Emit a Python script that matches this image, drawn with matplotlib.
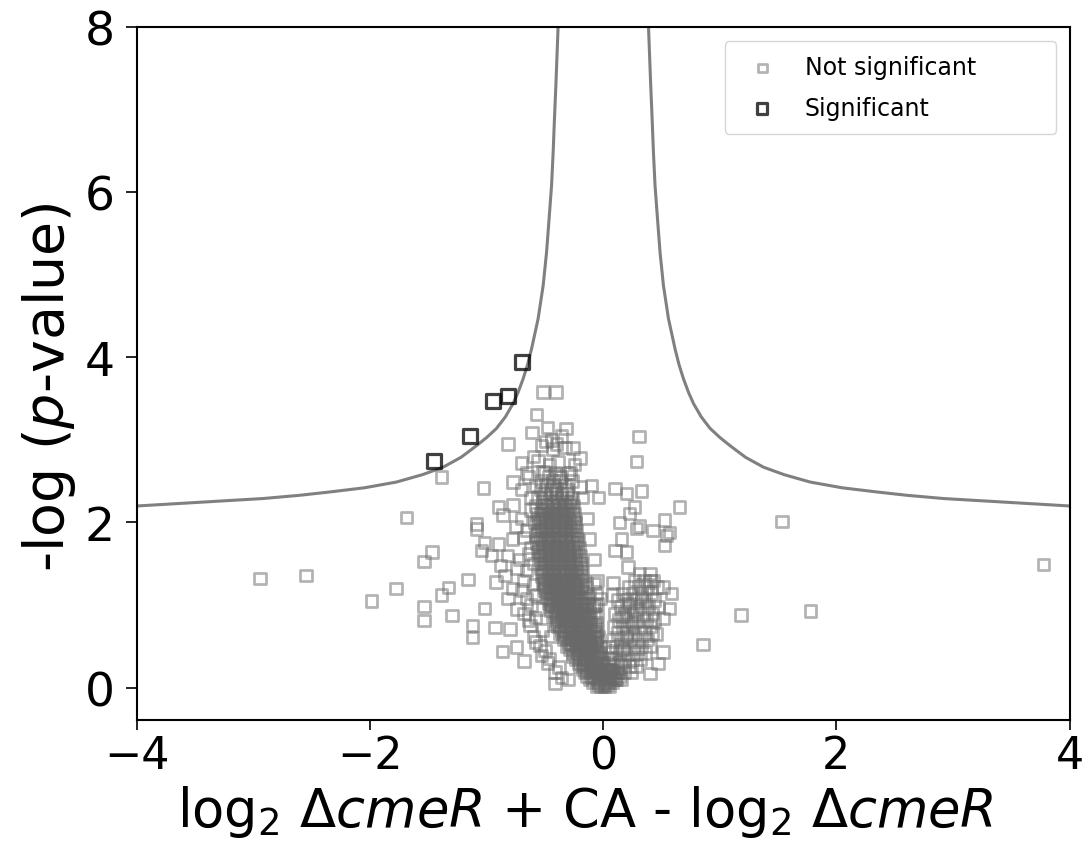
"""Volcano plot: log2 fold change (dcmeR + CA vs dcmeR) against -log p, with a hyperbolic significance cut-off."""
import matplotlib
matplotlib.use("Agg")
import matplotlib.pyplot as plt

# significance cut-off curve (|x|, -log p); mirrored for both sides
curve_abs_x = [0.388, 0.396, 0.407, 0.419, 0.430, 0.444, 0.465, 0.487, 0.516, 0.559, 0.616, 0.65,
               0.688, 0.73, 0.774, 0.84, 0.916, 1.00, 1.088, 1.22, 1.374, 1.55, 1.774, 2.05, 2.345,
               2.60, 2.92, 3.40, 4.00]
curve_y = [8.00, 7.70, 7.29, 6.89, 6.49, 6.08, 5.68, 5.27, 4.87, 4.47, 4.10, 3.91,
           3.74, 3.58, 3.44, 3.28, 3.14, 3.03, 2.93, 2.79, 2.67, 2.58, 2.49, 2.42, 2.37,
           2.33, 2.29, 2.25, 2.20]

# significant proteins
sig_x = [-0.70, -0.816, -0.945, -1.142, -1.451]
sig_y = [3.94, 3.53, 3.47, 3.05, 2.75]

# scattered non-significant proteins around the main cloud
out_x = [-2.946, -2.55, -1.99, -1.78, -1.69, -1.47, -1.54, -1.54, -1.54, -1.39, -1.39, -1.33, -1.30,
         -1.16, -1.12, -1.12, -1.03, -1.09, -1.09, -1.02, -1.02, -1.045, -0.96, -0.93, -0.90, -0.90,
         -0.92, -0.86, -0.864, -0.845, -0.816, -0.816, -0.80, -0.774, -0.774, -0.744, -0.70, -0.68,
         -0.63, -0.613, -0.573, -0.56, -0.545, -0.53, -0.53, -0.516, -0.516, -0.493, -0.436, -0.416,
         -0.416, -0.407, -0.39, -0.36, -0.36, -0.33, -0.32, -0.245, -0.20, -0.20,
         0.10, 0.20, 0.33, 0.307, 0.287, 0.27, 0.656, 0.14, 0.227, 0.527, 0.31, 0.427, 0.57, 0.10,
         0.20, 0.213, 0.156, 0.285, 0.54, 0.527, 0.084, 0.40, 0.513, 0.585, 0.57, 0.513, 0.456,
         0.513, 0.47, 0.40, 0.856, 1.18, 1.777, 1.533, 3.776, -0.03, 0.084,
         -0.75, -0.68, -0.62, -0.72, -0.66, -0.60, -0.70, -0.62, -0.68, -0.58, -0.60, -0.50, -0.48,
         -0.45, -0.56, -0.62, -0.66, -0.58,
         -0.62, -0.70, -0.66, -0.78, -0.64, -0.74, -0.60, -0.68, -0.78, -0.58, -0.66, -0.74, -0.56,
         -0.64, -0.52, -0.58, -0.46, -0.38, -0.36, -0.30, -0.82, -0.88, -0.70, -0.64, -0.60, -0.46,
         -0.40, -0.28, -0.18, -0.14, -0.12, -0.08, -0.05, -0.04, -0.10, -0.26, -0.48, -0.44,
         0.05, 0.06, 0.13, 0.17, 0.05, 0.20, 0.24, 0.16, 0.28, 0.22, 0.33]
out_y = [1.32, 1.36, 1.05, 1.20, 2.06, 1.64, 1.53, 0.98, 0.81, 2.55, 1.12, 1.21, 0.875,
         1.31, 0.75, 0.61, 2.42, 1.98, 1.92, 0.96, 1.76, 1.66, 1.60, 0.73, 2.19, 1.74,
         1.28, 2.09, 0.44, 1.36, 2.95, 1.08, 0.71, 2.49, 2.21, 0.49, 2.72, 0.32,
         0.75, 3.09, 3.31, 2.75, 0.51, 2.93, 0.39, 3.58, 2.61, 2.98, 2.89, 0.19,
         0.05, 3.58, 2.73, 3.05, 2.55, 2.91, 3.14, 2.70, 2.78, 2.43,
         2.41, 2.35, 2.38, 3.04, 2.74, 2.19, 2.19, 2.00, 2.11, 2.03, 1.96, 1.90, 1.88, 1.66,
         1.64, 1.46, 1.80, 1.93, 1.84, 1.72, 1.27, 1.30, 1.22, 1.14, 0.96, 0.84, 0.65,
         0.43, 0.29, 0.17, 0.52, 0.88, 0.93, 2.01, 1.49, 1.08, 1.12,
         1.95, 1.82, 1.70, 1.55, 1.42, 1.25, 1.18, 1.00, 0.90, 0.85, 0.62, 0.45, 0.30,
         0.62, 2.05, 2.30, 2.60, 2.45,
         2.15, 2.05, 1.90, 1.80, 1.62, 1.45, 1.50, 1.30, 1.20, 1.12, 1.08, 0.95, 0.95,
         0.82, 0.70, 0.55, 0.35, 0.25, 0.12, 0.10, 1.60, 1.48, 2.40, 2.55, 2.80, 2.70,
         2.95, 2.60, 2.30, 2.05, 1.80, 1.55, 1.30, 2.30, 2.45, 2.90, 3.15, 3.00,
         0.22, 0.35, 0.30, 0.46, 0.50, 0.62, 0.78, 0.86, 0.94, 1.02, 1.10]

# dense left lobe and V bottom, one row of x values per -log p level
core_levels = [0.02, 0.06, 0.10, 0.14, 0.18, 0.22, 0.26, 0.30, 0.34, 0.38, 0.42, 0.46, 0.50, 0.54,
               0.58, 0.62, 0.66, 0.70, 0.74, 0.78, 0.82, 0.86, 0.90, 0.94, 0.98, 1.02, 1.06, 1.10,
               1.14, 1.18, 1.22, 1.26, 1.30, 1.35, 1.40, 1.45, 1.50, 1.55, 1.60, 1.65, 1.70, 1.75,
               1.80, 1.85, 1.90, 1.95, 2.00, 2.05, 2.10, 2.15, 2.20, 2.25, 2.30, 2.35, 2.40, 2.45,
               2.50, 2.55, 2.60]
core_xs = [
    [-0.06, -0.02, 0.01, 0.05],
    [-0.09, -0.04, 0.02, 0.04, 0.08],
    [-0.12, -0.05, -0.03, 0.03, 0.06, 0.11],
    [-0.14, -0.08, -0.05, 0.01, 0.05, 0.08, 0.14],
    [-0.16, -0.11, -0.05, -0.02, 0.04, 0.09, 0.12],
    [-0.18, -0.12, -0.09, -0.02, 0.06],
    [-0.20, -0.15, -0.09, -0.06, 0.01],
    [-0.21, -0.17, -0.11, -0.08, -0.01, 0.05],
    [-0.24, -0.17, -0.14, -0.08, -0.05],
    [-0.26, -0.19, -0.16, -0.09, -0.04],
    [-0.26, -0.22, -0.16, -0.13, -0.06, -0.03],
    [-0.29, -0.22, -0.19, -0.12, -0.09],
    [-0.31, -0.24, -0.21, -0.14, -0.11, -0.03],
    [-0.30, -0.27, -0.20, -0.17, -0.10, -0.07],
    [-0.34, -0.27, -0.24, -0.17, -0.13, -0.06],
    [-0.33, -0.30, -0.23, -0.20, -0.13, -0.09, -0.04],
    [-0.37, -0.29, -0.26, -0.19, -0.16, -0.08],
    [-0.36, -0.33, -0.26, -0.22, -0.15, -0.11, -0.05],
    [-0.39, -0.32, -0.29, -0.21, -0.18, -0.10],
    [-0.41, -0.33, -0.30, -0.23, -0.19, -0.12, -0.06],
    [-0.40, -0.36, -0.29, -0.26, -0.18, -0.14],
    [-0.43, -0.36, -0.32, -0.25, -0.21, -0.13, -0.05],
    [-0.42, -0.39, -0.31, -0.28, -0.20, -0.16, -0.08],
    [-0.45, -0.38, -0.34, -0.27, -0.23, -0.15],
    [-0.44, -0.41, -0.33, -0.30, -0.22, -0.18, -0.09],
    [-0.47, -0.40, -0.36, -0.29, -0.25, -0.17, -0.13, -0.05],
    [-0.46, -0.43, -0.35, -0.32, -0.24, -0.20],
    [-0.49, -0.42, -0.38, -0.31, -0.27, -0.19, -0.12],
    [-0.48, -0.44, -0.37, -0.33, -0.26, -0.22, -0.14, -0.06],
    [-0.51, -0.43, -0.40, -0.32, -0.29, -0.21],
    [-0.50, -0.46, -0.38, -0.35, -0.27, -0.23, -0.15],
    [-0.52, -0.45, -0.41, -0.33, -0.30, -0.22, -0.08],
    [-0.51, -0.47, -0.40, -0.36, -0.28, -0.25, -0.16],
    [-0.53, -0.46, -0.42, -0.34, -0.31, -0.23, -0.19],
    [-0.52, -0.48, -0.41, -0.37, -0.29, -0.26, -0.18],
    [-0.54, -0.47, -0.43, -0.35, -0.32, -0.24, -0.20],
    [-0.53, -0.49, -0.42, -0.38, -0.30, -0.27, -0.19],
    [-0.55, -0.48, -0.44, -0.36, -0.33, -0.25, -0.21],
    [-0.54, -0.50, -0.43, -0.39, -0.31, -0.28, -0.20],
    [-0.56, -0.49, -0.45, -0.37, -0.34, -0.26, -0.22],
    [-0.55, -0.51, -0.44, -0.40, -0.32, -0.29, -0.21],
    [-0.57, -0.50, -0.46, -0.38, -0.35, -0.27, -0.23],
    [-0.55, -0.52, -0.44, -0.41, -0.33, -0.30, -0.22],
    [-0.58, -0.50, -0.47, -0.39, -0.36, -0.28, -0.24],
    [-0.56, -0.53, -0.45, -0.42, -0.34, -0.31, -0.23],
    [-0.51, -0.48, -0.40, -0.37, -0.29, -0.25],
    [-0.59, -0.54, -0.46, -0.43, -0.35, -0.32, -0.24],
    [-0.52, -0.49, -0.41, -0.37, -0.30, -0.26],
    [-0.57, -0.54, -0.47, -0.43, -0.36, -0.32, -0.25],
    [-0.53, -0.50, -0.42, -0.38, -0.31, -0.27],
    [-0.58, -0.48, -0.45, -0.37, -0.33, -0.26],
    [-0.52, -0.43, -0.40, -0.32, -0.28],
    [-0.56, -0.49, -0.40, -0.36, -0.27],
    [-0.51, -0.44, -0.36, -0.31],
    [-0.54, -0.45, -0.40, -0.31],
    [-0.49, -0.42, -0.33],
    [-0.53, -0.43, -0.37, -0.27],
    [-0.47, -0.38],
    [-0.50, -0.41, -0.30],
]

# second, interleaved set of rows filling the middle of the left lobe
fill_levels = [0.04, 0.12, 0.20, 0.28, 0.36, 0.44, 0.52, 0.60, 0.68, 0.76, 0.84, 0.92, 1.00, 1.08,
               1.16, 1.24, 1.32, 1.42, 1.52, 1.62, 1.72, 1.82, 1.92, 2.02, 2.12, 2.22]
fill_xs = [
    [-0.04, 0.00, 0.03],
    [-0.10, -0.07, -0.01, 0.02, 0.09],
    [-0.14, -0.07, -0.04, 0.02, 0.07],
    [-0.18, -0.13, -0.07, -0.03],
    [-0.21, -0.15, -0.11, -0.06, -0.02],
    [-0.24, -0.18, -0.14, -0.10, -0.05],
    [-0.28, -0.22, -0.18, -0.12, -0.08],
    [-0.31, -0.25, -0.21, -0.15, -0.11, -0.06],
    [-0.34, -0.28, -0.24, -0.17, -0.13, -0.07],
    [-0.37, -0.31, -0.27, -0.20, -0.16, -0.08],
    [-0.39, -0.34, -0.27, -0.23, -0.16, -0.11],
    [-0.41, -0.36, -0.30, -0.25, -0.18, -0.12],
    [-0.43, -0.38, -0.31, -0.27, -0.20, -0.15, -0.07],
    [-0.45, -0.39, -0.34, -0.29, -0.22, -0.16],
    [-0.46, -0.41, -0.35, -0.30, -0.24, -0.18],
    [-0.48, -0.43, -0.37, -0.31, -0.25, -0.19],
    [-0.49, -0.44, -0.38, -0.33, -0.27, -0.21],
    [-0.50, -0.45, -0.39, -0.34, -0.28, -0.22],
    [-0.51, -0.46, -0.40, -0.35, -0.29, -0.23],
    [-0.52, -0.47, -0.41, -0.36, -0.30, -0.24],
    [-0.53, -0.48, -0.42, -0.37, -0.31, -0.25],
    [-0.54, -0.48, -0.43, -0.37, -0.32, -0.26],
    [-0.54, -0.49, -0.44, -0.38, -0.33, -0.27],
    [-0.55, -0.50, -0.44, -0.39, -0.33, -0.28],
    [-0.51, -0.45, -0.40, -0.34, -0.29],
    [-0.50, -0.44, -0.39, -0.34, -0.29],
]

# right lobe, sparser
rlobe_levels = [0.10, 0.18, 0.26, 0.34, 0.42, 0.50, 0.58, 0.66, 0.74, 0.82, 0.90, 0.98, 1.06,
                1.14, 1.22, 1.30, 1.38]
rlobe_xs = [
    [0.10, 0.15],
    [0.12, 0.18, 0.24],
    [0.08, 0.15, 0.22, 0.28],
    [0.10, 0.18, 0.25, 0.32],
    [0.07, 0.14, 0.21, 0.29, 0.36],
    [0.11, 0.18, 0.26, 0.33, 0.40],
    [0.08, 0.15, 0.23, 0.30, 0.38],
    [0.12, 0.20, 0.27, 0.35, 0.42],
    [0.09, 0.17, 0.25, 0.32, 0.40],
    [0.13, 0.21, 0.29, 0.37, 0.44],
    [0.10, 0.18, 0.26, 0.34, 0.42],
    [0.15, 0.23, 0.31, 0.39, 0.47],
    [0.12, 0.20, 0.28, 0.36, 0.44],
    [0.17, 0.25, 0.33, 0.41],
    [0.22, 0.30, 0.38, 0.46],
    [0.27, 0.35, 0.43],
    [0.31, 0.40],
]

ns_x = list(out_x)
ns_y = list(out_y)
for levels, rows in ((core_levels, core_xs), (fill_levels, fill_xs), (rlobe_levels, rlobe_xs)):
    for level, xs in zip(levels, rows):
        ns_x += xs
        ns_y += [level] * len(xs)

fig = plt.figure(figsize=(10.88, 8.53), dpi=100)
ax = fig.add_axes([0.126, 0.155, 0.857, 0.812])

ax.scatter(ns_x, ns_y, marker="s", s=68, facecolors="none", edgecolors="dimgray",
           linewidths=2.0, alpha=0.5, label="Not significant", zorder=2)
ax.scatter(sig_x, sig_y, marker="s", s=100, facecolors="none", edgecolors="black",
           linewidths=2.3, alpha=0.75, label="Significant", zorder=3)

ax.plot([-v for v in curve_abs_x], curve_y, color="gray", lw=2.2, zorder=1)
ax.plot(curve_abs_x, curve_y, color="gray", lw=2.2, zorder=1)

ax.set_xlim(-4, 4)
ax.set_ylim(-0.39, 8)
ax.set_xticks([-4, -2, 0, 2, 4])
ax.set_yticks([0, 2, 4, 6, 8])
ax.tick_params(axis="x", labelsize=32, length=7, width=1.2)
ax.tick_params(axis="y", labelsize=34, length=8, width=1.2, pad=8)
for sp in ax.spines.values():
    sp.set_linewidth(1.5)

ax.set_xlabel(r"log$_2$ $\Delta\it{cmeR}$ + CA - log$_2$ $\Delta\it{cmeR}$", fontsize=38)
ax.set_ylabel(r"-log ($\it{p}$-value)", fontsize=40, labelpad=5)
# the reference centres both axis labels a little off the axes centre
ax.xaxis.label.set_x(0.481)
ax.yaxis.label.set_y(0.482)

ax.legend(bbox_to_anchor=(0.630, 0.0, 0.356, 0.980), loc="upper left", mode="expand",
          borderaxespad=0, fontsize=17, markerscale=0.75, labelspacing=0.7, borderpad=0.6)

fig.savefig("out.png", dpi=100)
